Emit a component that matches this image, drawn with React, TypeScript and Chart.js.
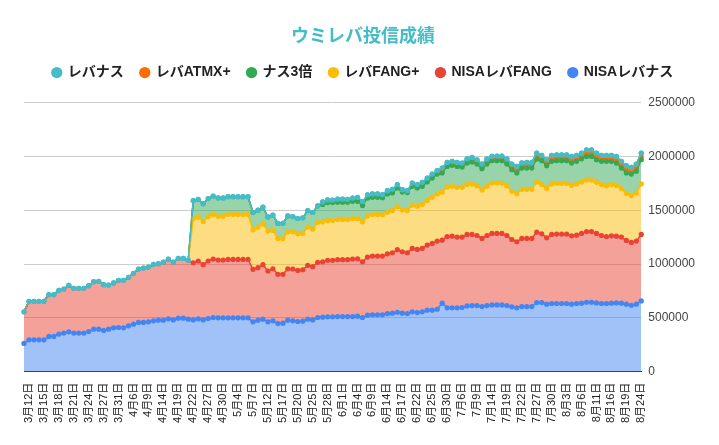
import React, { useEffect, useRef } from "react";
import { Chart, registerables } from "chart.js";

Chart.register(...registerables);

Chart.defaults.font.family = "'Liberation Sans', Arial, 'Noto Sans CJK JP', sans-serif";

// dates of each record (every third one is printed on the axis)
const dates = [
  "3月11日",
  "3月12日", "3月13日", "3月14日", "3月15日", "3月16日", "3月17日", "3月18日", "3月19日", "3月20日",
  "3月21日", "3月22日", "3月23日", "3月24日", "3月25日", "3月26日", "3月27日", "3月29日", "3月30日",
  "3月31日", "4月1日", "4月2日", "4月6日", "4月7日", "4月8日", "4月9日", "4月12日", "4月13日",
  "4月14日", "4月15日", "4月16日", "4月19日", "4月20日", "4月21日", "4月22日", "4月23日", "4月26日",
  "4月27日", "4月28日", "4月29日", "4月30日", "5月1日", "5月3日", "5月4日", "5月5日", "5月6日",
  "5月7日", "5月10日", "5月11日", "5月12日", "5月13日", "5月14日", "5月17日", "5月18日", "5月19日",
  "5月20日", "5月21日", "5月24日", "5月25日", "5月26日", "5月27日", "5月28日", "5月30日", "5月31日",
  "6月1日", "6月2日", "6月3日", "6月4日", "6月7日", "6月8日", "6月9日", "6月10日", "6月11日",
  "6月14日", "6月15日", "6月16日", "6月17日", "6月18日", "6月21日", "6月22日", "6月23日", "6月24日",
  "6月25日", "6月28日", "6月29日", "6月30日", "7月1日", "7月2日", "7月6日", "7月7日", "7月8日",
  "7月9日", "7月12日", "7月13日", "7月14日", "7月15日", "7月16日", "7月19日", "7月20日", "7月21日",
  "7月22日", "7月23日", "7月26日", "7月27日", "7月28日", "7月29日", "7月30日", "7月31日", "8月2日",
  "8月3日", "8月4日", "8月5日", "8月6日", "8月9日", "8月10日", "8月11日", "8月12日", "8月13日",
  "8月16日", "8月17日", "8月18日", "8月19日", "8月20日", "8月23日", "8月24日",
];

// stacked bottom to top
const nisaLevanas = [
  262000, 296000, 296000, 296000, 296000, 327000, 327000, 349000, 358000, 370000,
  358000, 358000, 358000, 373000, 395000, 395000, 383000, 395000, 407000, 410000,
  407000, 426000, 441000, 457000, 457000, 463000, 472000, 478000, 478000, 491000,
  481000, 497000, 497000, 488000, 481000, 491000, 481000, 494000, 503000, 500000,
  500000, 500000, 500000, 500000, 500000, 500000, 463000, 478000, 488000, 463000,
  472000, 447000, 450000, 478000, 472000, 466000, 469000, 488000, 481000, 503000,
  506000, 509000, 509000, 512000, 512000, 512000, 512000, 515000, 503000, 525000,
  528000, 528000, 528000, 540000, 543000, 552000, 543000, 540000, 556000, 549000,
  556000, 571000, 571000, 580000, 636000, 593000, 593000, 593000, 596000, 611000,
  614000, 614000, 605000, 614000, 620000, 620000, 620000, 614000, 602000, 593000,
  605000, 605000, 605000, 642000, 642000, 627000, 633000, 633000, 633000, 633000,
  627000, 633000, 636000, 645000, 645000, 639000, 633000, 633000, 636000, 639000,
  636000, 627000, 617000, 627000, 657000,
];

const nisaLevaFang = [
  294000, 358000, 358000, 358000, 358000, 389000, 389000, 407000, 410000, 432000,
  417000, 417000, 417000, 426000, 441000, 444000, 425000, 410000, 417000, 439000,
  442000, 451000, 473000, 497000, 506000, 509000, 525000, 525000, 540000, 555000,
  537000, 555000, 555000, 546000, 531000, 537000, 513000, 534000, 543000, 537000,
  537000, 543000, 543000, 543000, 543000, 543000, 488000, 488000, 506000, 472000,
  484000, 457000, 454000, 478000, 482000, 475000, 478000, 500000, 494000, 513000,
  515000, 525000, 525000, 528000, 528000, 528000, 534000, 534000, 518000, 540000,
  546000, 546000, 546000, 555000, 562000, 581000, 571000, 565000, 589000, 587000,
  589000, 605000, 620000, 633000, 586000, 663000, 666000, 657000, 654000, 664000,
  661000, 651000, 633000, 651000, 664000, 664000, 664000, 651000, 626000, 614000,
  633000, 633000, 633000, 654000, 639000, 617000, 642000, 645000, 645000, 645000,
  635000, 635000, 648000, 657000, 657000, 645000, 632000, 623000, 626000, 620000,
  614000, 592000, 584000, 586000, 618000,
];

const levaFangPlus = [
  0, 0, 0, 0, 0, 0, 0, 0, 0, 0,
  0, 0, 0, 0, 0, 0, 0, 0, 0, 0,
  0, 0, 0, 0, 0, 0, 0, 0, 0, 0,
  0, 0, 0, 0, 411000, 407000, 401000, 413000, 414000, 407000,
  407000, 417000, 417000, 417000, 417000, 417000, 367000, 377000, 379000, 371000,
  356000, 334000, 331000, 343000, 345000, 340000, 337000, 355000, 349000, 370000,
  371000, 370000, 370000, 374000, 374000, 374000, 377000, 374000, 371000, 382000,
  386000, 386000, 383000, 386000, 392000, 398000, 389000, 392000, 401000, 401000,
  407000, 414000, 429000, 438000, 445000, 460000, 463000, 463000, 463000, 463000,
  469000, 463000, 450000, 457000, 469000, 469000, 469000, 463000, 448000, 447000,
  457000, 456000, 456000, 466000, 457000, 457000, 469000, 472000, 472000, 472000,
  469000, 476000, 478000, 479000, 479000, 475000, 473000, 472000, 476000, 472000,
  451000, 438000, 435000, 447000, 469000,
];

const nas3x = [
  0, 0, 0, 0, 0, 0, 0, 0, 0, 0,
  0, 0, 0, 0, 0, 0, 0, 0, 0, 0,
  0, 0, 0, 0, 0, 0, 0, 0, 0, 0,
  0, 0, 0, 0, 167000, 167000, 164000, 167000, 172000, 170000,
  170000, 166000, 166000, 166000, 166000, 166000, 161000, 157000, 155000, 132000,
  142000, 139000, 142000, 148000, 142000, 142000, 145000, 154000, 155000, 154000,
  161000, 167000, 167000, 160000, 160000, 160000, 160000, 160000, 151000, 167000,
  160000, 160000, 160000, 170000, 163000, 176000, 167000, 167000, 176000, 170000,
  170000, 172000, 179000, 185000, 179000, 191000, 195000, 194000, 188000, 200000,
  203000, 201000, 198000, 207000, 207000, 207000, 207000, 201000, 201000, 192000,
  197000, 198000, 198000, 213000, 222000, 213000, 210000, 210000, 210000, 210000,
  207000, 210000, 216000, 219000, 219000, 210000, 216000, 226000, 216000, 207000,
  191000, 189000, 200000, 201000, 225000,
];

const levaAtmx = [
  0, 0, 0, 0, 0, 0, 0, 0, 0, 0,
  0, 0, 0, 0, 0, 0, 0, 0, 0, 0,
  0, 0, 0, 0, 0, 0, 0, 0, 0, 0,
  0, 0, 0, 0, 0, 0, 0, 0, 0, 0,
  0, 0, 0, 0, 0, 0, 0, 0, 0, 0,
  0, 0, 0, 0, 0, 0, 0, 0, 0, 0,
  11000, 11000, 10000, 13000, 13000, 12000, 13000, 16000, 16000, 13000,
  14000, 14000, 13000, 14000, 15000, 14000, 10000, 8000, 14000, 14000,
  16000, 16000, 16000, 14000, 20000, 16000, 16000, 16000, 16000, 18000,
  19000, 18000, 19000, 22000, 18000, 19000, 19000, 22000, 23000, 27000,
  21000, 23000, 23000, 25000, 22000, 24000, 24000, 24000, 24000, 24000,
  27000, 24000, 24000, 27000, 27000, 27000, 24000, 24000, 24000, 27000,
  27000, 29000, 27000, 29000, 27000,
];

const levanas = [
  0, 0, 0, 0, 0, 0, 0, 0, 0, 0,
  0, 0, 0, 0, 0, 0, 0, 0, 0, 0,
  0, 0, 0, 0, 0, 0, 0, 0, 0, 0,
  0, 0, 0, 0, 0, 0, 0, 0, 0, 0,
  0, 0, 0, 0, 0, 0, 0, 0, 0, 0,
  0, 0, 0, 0, 0, 0, 0, 0, 0, 0,
  13000, 14000, 12000, 16000, 16000, 15000, 17000, 21000, 21000, 15000,
  17000, 17000, 15000, 17000, 19000, 17000, 11000, 10000, 17000, 17000,
  21000, 21000, 21000, 17000, 26000, 21000, 21000, 21000, 21000, 22000,
  25000, 22000, 24000, 27000, 22000, 24000, 24000, 27000, 29000, 34000,
  27000, 29000, 29000, 31000, 27000, 31000, 31000, 31000, 31000, 31000,
  35000, 31000, 29000, 35000, 35000, 35000, 31000, 31000, 31000, 35000,
  35000, 39000, 35000, 39000, 35000,
];

const seriesNames = ["NISAレバナス", "NISAレバFANG", "レバFANG+", "ナス3倍", "レバATMX+", "レバナス"];
const seriesColors = ["#4285f4", "#ea4335", "#fbbc04", "#34a853", "#ff6d01", "#46bdc6"];

const fade = (hex: string, alpha: number) => {
  const n = parseInt(hex.slice(1), 16);
  return `rgba(${(n >> 16) & 255},${(n >> 8) & 255},${n & 255},${alpha})`;
};

// pushes the plot down a bit below the legend
const legendGap = {
  id: "legendGap",
  beforeInit(chart: any) {
    const fit = chart.legend.fit;
    chart.legend.fit = function () {
      fit.bind(chart.legend)();
      this.height += 13;
    };
  },
};

// the top series line and dots go over everything else
const topSeriesOnTop = {
  id: "topSeriesOnTop",
  afterDatasetsDraw(chart: any) {
    const meta = chart.getDatasetMeta(chart.data.datasets.length - 1);
    const ctx = chart.ctx;
    ctx.save();
    ctx.beginPath();
    ctx.rect(chart.chartArea.left - 4, chart.chartArea.top - 4, chart.chartArea.width + 8, chart.chartArea.height + 8);
    ctx.clip();
    meta.controller.draw();
    ctx.restore();
  },
};

const App: React.FC = () => {
  const canvasRef = useRef<HTMLCanvasElement | null>(null);

  useEffect(() => {
    document.body.style.margin = "0";
    if (!canvasRef.current) return;

    const series = [nisaLevanas, nisaLevaFang, levaFangPlus, nas3x, levaAtmx, levanas];
    // a dot sits under the top line when everything stacked above it is zero
    const covered = (d: number, i: number) =>
      d < series.length - 1 && series.slice(d + 1).every((s) => s[i] === 0);

    const chart = new Chart(canvasRef.current, {
      type: "line",
      data: {
        labels: dates,
        datasets: series.map((data, d) => ({
          label: seriesNames[d],
          data,
          borderColor: seriesColors[d],
          backgroundColor: fade(seriesColors[d], 0.5),
          pointBackgroundColor: seriesColors[d],
          pointBorderColor: seriesColors[d],
          pointBorderWidth: 0,
          pointRadius: (ctx: any) => (covered(d, ctx.dataIndex) ? 0 : 2.6),
          borderWidth: 1.5,
          fill: d === 0 ? "origin" : "-1",
          tension: 0,
        })),
      },
      options: {
        animation: false,
        responsive: true,
        maintainAspectRatio: false,
        layout: { padding: { top: 0, left: 24, right: 17, bottom: 19 } },
        plugins: {
          title: {
            display: true,
            text: "ウミレバ投信成績",
            color: "#46bdc6",
            font: { size: 18, weight: "bold" },
            padding: { top: 26, bottom: 1 },
          },
          legend: {
            reverse: true,
            labels: {
              usePointStyle: true,
              pointStyle: "circle",
              boxWidth: 8,
              boxHeight: 8,
              padding: 17,
              color: "#222",
              font: { size: 14, weight: "bold" },
              generateLabels: (c: any) =>
                Chart.defaults.plugins.legend.labels.generateLabels(c).map((item: any) => ({
                  ...item,
                  fillStyle: seriesColors[item.datasetIndex],
                  strokeStyle: seriesColors[item.datasetIndex],
                  lineWidth: 0,
                })),
            },
          },
          tooltip: { enabled: false },
        },
        scales: {
          x: {
            grid: { display: false, drawTicks: true, tickLength: 8 },
            border: { display: true, color: "#333" },
            ticks: {
              autoSkip: false,
              minRotation: 90,
              maxRotation: 90,
              color: "#222",
              font: { size: 11 },
              padding: 3,
              callback: (_v: any, i: number) => (i % 3 === 1 ? dates[i] : ""),
            },
          },
          y: {
            position: "right",
            stacked: true,
            min: 0,
            max: 2500000,
            grid: { color: "#ccc", drawTicks: false },
            border: { display: false },
            ticks: {
              stepSize: 500000,
              color: "#444",
              font: { size: 12 },
              padding: 7,
              callback: (v: any) => String(v),
            },
          },
        },
      },
      plugins: [legendGap, topSeriesOnTop],
    });

    return () => {
      chart.destroy();
    };
  }, []);

  return (
    <div style={{ position: "relative", width: 719, height: 445 }}>
      <canvas ref={canvasRef} />
    </div>
  );
};

export default App;
